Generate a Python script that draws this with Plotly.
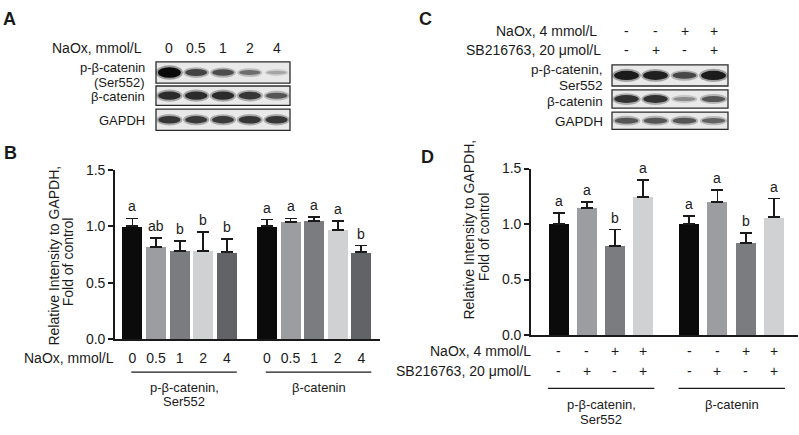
import plotly.graph_objects as go

W, H = 799, 435
FONT = "Arial, 'Liberation Sans', Helvetica, sans-serif"
TXT = "#1a1a1a"

# ---------------- data ----------------
doses_B = ["0", "0.5", "1", "2", "4"]
group_names = [["p-β-catenin,", "Ser552"], ["β-catenin"]]

B_pbeta_mean = [1.00, 0.82, 0.78, 0.78, 0.77]
B_pbeta_err = [0.07, 0.08, 0.09, 0.17, 0.12]
B_pbeta_sig = ["a", "ab", "b", "b", "b"]
B_beta_mean = [1.00, 1.04, 1.05, 0.97, 0.77]
B_beta_err = [0.06, 0.03, 0.03, 0.08, 0.06]
B_beta_sig = ["a", "a", "a", "a", "b"]
B_colors = ["#0b0b0b", "#9c9da0", "#7b7c7f", "#d0d1d3", "#626366"]

D_naox = ["-", "-", "+", "+"]
D_sb = ["-", "+", "-", "+"]
D_pbeta_mean = [1.00, 1.145, 0.805, 1.245]
D_pbeta_err = [0.10, 0.055, 0.145, 0.155]
D_pbeta_sig = ["a", "a", "b", "a"]
D_beta_mean = [1.00, 1.20, 0.83, 1.06]
D_beta_err = [0.075, 0.11, 0.09, 0.17]
D_beta_sig = ["a", "a", "b", "a"]
D_colors = ["#0b0b0b", "#9c9da0", "#7b7c7f", "#d0d1d3"]

y_ticks = [0.0, 0.5, 1.0, 1.5]
y_ticktext = ["0.0", "0.5", "1.0", "1.5"]

# western blot band intensities (0 = none, 1 = darkest)
A_lanes = ["0", "0.5", "1", "2", "4"]
A_row_labels = [["p-β-catenin", "(Ser552)"], ["β-catenin"], ["GAPDH"]]
A_bands = [
    [1.00, 0.74, 0.70, 0.55, 0.30],
    [0.85, 0.85, 0.85, 0.80, 0.66],
    [0.80, 0.78, 0.78, 0.80, 0.80],
]
C_row_labels = [["p-β-catenin,", "Ser552"], ["β-catenin"], ["GAPDH"]]
C_bands = [
    [0.92, 0.90, 0.72, 0.92],
    [0.82, 0.82, 0.42, 0.66],
    [0.66, 0.66, 0.66, 0.60],
]

# ---------------- helpers ----------------
def px(x):
    return x / W

def py(y):
    return 1 - y / H

shapes = []
ann = []

def text(x, y, s, size=14, xanchor="center", bold=False, angle=0, ref=("paper", "paper")):
    ann.append(dict(
        x=x, y=y, xref=ref[0], yref=ref[1], text=f"<b>{s}</b>" if bold else s,
        showarrow=False, xanchor=xanchor, yanchor="middle", textangle=angle,
        borderpad=0,
        font=dict(family=FONT, size=size, color=TXT),
    ))

def blot(x0, x1, rows, bands, band_w):
    n = len(bands[0])
    step = (x1 - x0) / n
    for (r0, r1), row in zip(rows, bands):
        shapes.append(dict(type="rect", xref="paper", yref="paper",
                           x0=px(x0), x1=px(x1), y0=py(r1), y1=py(r0),
                           fillcolor="#e9e9e9", line=dict(color="#2b2b2b", width=1.3)))
        cy = (r0 + r1) / 2
        for i, v in enumerate(row):
            cx = x0 + step * (i + 0.5)
            h = 3 + 8 * v ** 2.2
            w = band_w * (0.85 + 0.2 * v)
            g = int(232 - 222 * v)
            col = f"rgb({g},{g},{g})"
            shapes.append(dict(type="circle", xref="paper", yref="paper",
                               x0=px(cx - w / 2 - 2), x1=px(cx + w / 2 + 2),
                               y0=py(cy + h / 2 + 2), y1=py(cy - h / 2 - 2),
                               fillcolor=col, opacity=0.35, line=dict(width=0)))
            shapes.append(dict(type="circle", xref="paper", yref="paper",
                               x0=px(cx - w / 2), x1=px(cx + w / 2),
                               y0=py(cy + h / 2), y1=py(cy - h / 2),
                               fillcolor=col, line=dict(width=0)))
    return [x0 + step * (i + 0.5) for i in range(n)]

# ---------------- panel A blot ----------------
text(px(2), py(11), "A", size=18, xanchor="left", bold=True)
a_centers = blot(156, 290, [(56, 78), (81, 101), (105, 127)], A_bands, 22)
text(px(143), py(42), "NaOx, mmol/L", xanchor="right")
for cx, lab in zip(a_centers, A_lanes):
    text(px(cx), py(42), lab)
a_label_y = [[62, 77], [92], [117]]
for lines, ys in zip(A_row_labels, a_label_y):
    for s, yy in zip(lines, ys):
        text(px(146), py(yy), s, size=13, xanchor="right")

# ---------------- panel C blot ----------------
text(px(418), py(11), "C", size=18, xanchor="left", bold=True)
c_centers = blot(612, 728, [(59, 81), (85, 104), (108, 126)], C_bands, 24)
text(px(598), py(24), "NaOx, 4 mmol/L", xanchor="right")
text(px(602), py(44), "SB216763, 20 μmol/L", xanchor="right")
for cx, a, b in zip(c_centers, D_naox, D_sb):
    text(px(cx), py(24), a)
    text(px(cx), py(44), b)
c_label_y = [[64, 80], [97], [118]]
for lines, ys in zip(C_row_labels, c_label_y):
    for s, yy in zip(lines, ys):
        text(px(604), py(yy), s, size=13.5, xanchor="right")

# ---------------- bar charts ----------------
fig = go.Figure()

GAP_B = 5.7
xb = [g * GAP_B + i for g in range(2) for i in range(5)]
B_mean = B_pbeta_mean + B_beta_mean
B_err = B_pbeta_err + B_beta_err
B_sig = B_pbeta_sig + B_beta_sig
fig.add_trace(go.Bar(
    x=xb, y=B_mean, width=0.85, marker=dict(color=B_colors * 2, line=dict(width=0)),
    error_y=dict(type="data", array=B_err, arrayminus=[0] * len(B_err), symmetric=False,
                 color="#1a1a1a", thickness=1.8, width=6),
    xaxis="x", yaxis="y", showlegend=False, hoverinfo="skip",
))

GAP_D = 4.64
xd = [g * GAP_D + i for g in range(2) for i in range(4)]
D_mean = D_pbeta_mean + D_beta_mean
D_err = D_pbeta_err + D_beta_err
D_sig = D_pbeta_sig + D_beta_sig
fig.add_trace(go.Bar(
    x=xd, y=D_mean, width=0.71, marker=dict(color=D_colors * 2, line=dict(width=0)),
    error_y=dict(type="data", array=D_err, arrayminus=[0] * len(D_err), symmetric=False,
                 color="#1a1a1a", thickness=1.8, width=6),
    xaxis="x2", yaxis="y2", showlegend=False, hoverinfo="skip",
))

# significance letters
for x, m, e, s in zip(xb, B_mean, B_err, B_sig):
    ann.append(dict(x=x, y=m + e, xref="x", yref="y", text=s, showarrow=False,
                    yanchor="bottom", yshift=2, font=dict(family=FONT, size=14, color=TXT)))
for x, m, e, s in zip(xd, D_mean, D_err, D_sig):
    ann.append(dict(x=x, y=m + e, xref="x2", yref="y2", text=s, showarrow=False,
                    yanchor="bottom", yshift=2, font=dict(family=FONT, size=14, color=TXT)))

# panel B decorations
text(px(3), py(151), "B", size=18, xanchor="left", bold=True)
text(px(54), py(257), "Relative Intensity to GAPDH,", angle=-90)
text(px(68), py(264), "Fold of control", angle=-90)
text(px(115), py(363), "NaOx, mmol/L", xanchor="right")
for g in range(2):
    p = g * GAP_B
    shapes.append(dict(type="line", xref="x", yref="paper", x0=p - 0.05, x1=p + 4.42,
                       y0=py(378), y1=py(378), line=dict(color=TXT, width=1.2)))
    mid = p + (4.42 - 0.05) / 2
    for k, s in enumerate(group_names[g]):
        text(mid, py(394 + 15 * k), s, size=13, ref=("x", "paper"))

# panel D decorations
text(px(420), py(155), "D", size=18, xanchor="left", bold=True)
text(px(469), py(230), "Relative Intensity to GAPDH,", angle=-90)
text(px(484), py(238), "Fold of control", angle=-90)
text(px(532), py(356), "NaOx, 4 mmol/L", xanchor="right")
text(px(532), py(377), "SB216763, 20 μmol/L", xanchor="right")
for x, a, b in zip(xd, D_naox * 2, D_sb * 2):
    text(x, py(356), a, ref=("x2", "paper"))
    text(x, py(377), b, ref=("x2", "paper"))
for g in range(2):
    p = g * GAP_D
    shapes.append(dict(type="line", xref="x2", yref="paper", x0=p - 0.38, x1=p + 3.4,
                       y0=py(395), y1=py(395), line=dict(color=TXT, width=1.2)))
    mid = p + (3.4 - 0.38) / 2
    for k, s in enumerate(group_names[g]):
        text(mid, py(412 + 15 * k), s, size=13, ref=("x2", "paper"))

yaxis_common = dict(
    range=[0, 1.5], tickvals=y_ticks, ticktext=y_ticktext, showline=True,
    linecolor=TXT, linewidth=1.6, ticks="outside", ticklen=5, tickwidth=1.6,
    tickcolor=TXT, showgrid=False, zeroline=False, fixedrange=True,
    tickfont=dict(family=FONT, size=14, color=TXT),
)

fig.update_layout(
    width=W, height=H, margin=dict(l=0, r=0, t=0, b=0),
    paper_bgcolor="white", plot_bgcolor="white", bargap=0,
    xaxis=dict(domain=[px(115), px(380)], range=[-0.74, 10.49], showline=True,
               linecolor=TXT, linewidth=1.6, ticks="", tickvals=xb,
               ticktext=doses_B * 2, ticklabelstandoff=5, showgrid=False,
               zeroline=False, fixedrange=True,
               tickfont=dict(family=FONT, size=14, color=TXT), anchor="y"),
    yaxis=dict(domain=[py(344), py(168)], anchor="x", **yaxis_common),
    xaxis2=dict(domain=[px(531), px(798)], range=[-0.98, 8.5], showline=True,
                linecolor=TXT, linewidth=1.6, ticks="", showticklabels=False,
                showgrid=False, zeroline=False, fixedrange=True, anchor="y2"),
    yaxis2=dict(domain=[py(339.5), py(166.7)], anchor="x2", **yaxis_common),
    shapes=shapes, annotations=ann,
)

fig.write_html("out.html", config={"displayModeBar": False},
               post_script="document.body.style.margin='0px';")
